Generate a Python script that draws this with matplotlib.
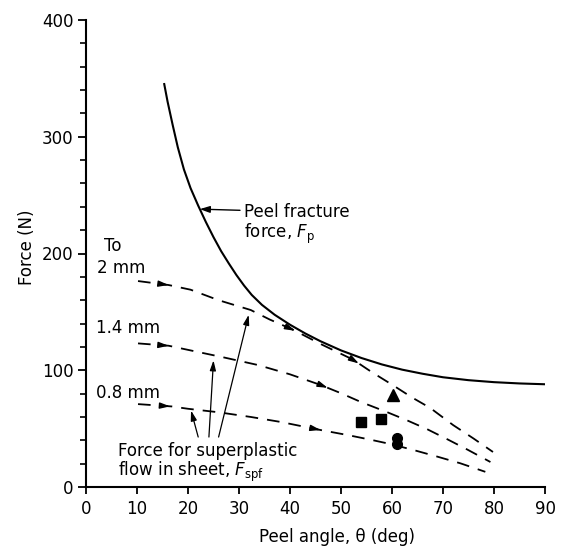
import numpy as np
import matplotlib
matplotlib.use("Agg")
import matplotlib.pyplot as plt

plt.rcParams['font.family'] = ['DejaVu Sans']
plt.rcParams['mathtext.fontset'] = 'dejavusans'

# Peel fracture force curve F_p
fp_theta = [15.3, 16.0, 17.0, 18.0, 19.2, 20.5, 22.0, 23.5, 25.0, 26.5, 28.0, 29.5, 31.0, 32.5,
            34.5, 37.0, 40.0, 43.0, 46.0, 50.0, 54.0, 58.0, 62.0, 66.0, 70.0, 75.0, 80.0, 85.0, 90.0]
fp_force = [346, 330, 310, 291, 272, 256, 241, 227, 214, 202, 191.5, 181.5, 172.5, 164.5,
            156, 147.5, 139, 131.5, 124.8, 117, 110.5, 105, 100.5, 97, 94, 91.5, 89.8, 88.7, 88]

# Force for superplastic flow, F_spf (dashed) for three thicknesses
t2_theta = [10.2, 16.2, 20.5, 26.0, 32.3, 36.0, 40.7, 46.0, 52.4, 56.0, 60.1, 64.0, 67.5, 72.0, 76.0, 79.8]
t2_force = [176.4, 173, 169, 160, 151.6, 143.5, 134.5, 122.5, 109, 98.5, 87.4, 76.5, 67.7, 53, 41.5, 30]

t14_theta = [10.2, 16.2, 20.5, 27.0, 33.7, 40.0, 46.0, 49.9, 53.8, 59.1, 63.0, 66.9, 70.8, 74.8, 79.3]
t14_force = [123, 121, 117, 111, 104.5, 96.5, 87.4, 80.5, 73, 64, 57, 49.5, 41, 32, 21.4]

t08_theta = [10.2, 16.8, 20.0, 26.0, 32.3, 38.2, 46.0, 51.3, 55.8, 59.7, 64.2, 68.9, 73.4, 78.3]
t08_force = [71, 69, 67, 64, 60, 55.7, 48.8, 44.5, 40.5, 36.8, 31.7, 26, 20.3, 13]

# Experimental points
tri_theta, tri_force = [60.1], [79]
sq_theta, sq_force = [54.0, 57.9], [55.7, 58.2]
circ_theta, circ_force = [60.9, 60.9], [42, 37]

# Positions of direction arrows along dashed lines (theta)
t2_arrows = [16.2, 41.0, 53.5]
t14_arrows = [16.2, 47.4]
t08_arrows = [16.5, 46.0]

x_ticks = list(range(0, 91, 10))
y_ticks = [0, 100, 200, 300, 400]

fig = plt.figure(figsize=(5.62, 5.49), dpi=100)
ax = fig.add_axes([86/562, 1-487/549, (545-86)/562, (487-20)/549])

ax.plot(fp_theta, fp_force, color='black', lw=1.5, solid_capstyle='butt')
for th, fo in [(t2_theta, t2_force), (t14_theta, t14_force), (t08_theta, t08_force)]:
    ax.plot(th, fo, color='black', lw=1.3, dashes=(7, 5))

def arrows_on(th, fo, where):
    for w in where:
        y2 = np.interp(w, th, fo)
        y1 = np.interp(w - 1.5, th, fo)
        ax.annotate('', xy=(w, y2), xytext=(w - 1.5, y1),
                    arrowprops=dict(arrowstyle='-|>,head_length=0.6,head_width=0.18',
                                    color='black', lw=1.0, shrinkA=0, shrinkB=0))

arrows_on(t2_theta, t2_force, t2_arrows)
arrows_on(t14_theta, t14_force, t14_arrows)
arrows_on(t08_theta, t08_force, t08_arrows)

ax.plot(tri_theta, tri_force, '^', color='black', ms=8)
ax.plot(sq_theta, sq_force, 's', color='black', ms=7)
ax.plot(circ_theta, circ_force, 'o', color='black', ms=7)

# Labels
ax.text(5.3, 206, 'To', fontsize=12, ha='center', va='center')
ax.text(2.1, 188, '2 mm', fontsize=12, ha='left', va='center')
ax.text(1.9, 136, '1.4 mm', fontsize=12, ha='left', va='center')
ax.text(1.9, 80.5, '0.8 mm', fontsize=12, ha='left', va='center')

ax.text(30.9, 235.5, 'Peel fracture', fontsize=12, ha='left', va='center')
ax.text(30.9, 217, r'force, $F_{\mathrm{p}}$', fontsize=12, ha='left', va='center')
ax.annotate('', xy=(22.3, 238), xytext=(30.2, 237),
            arrowprops=dict(arrowstyle='-|>,head_length=0.6,head_width=0.2',
                            color='black', lw=1.0, shrinkA=0, shrinkB=0))

ax.text(6.3, 31, 'Force for superplastic', fontsize=12, ha='left', va='center')
ax.text(6.3, 13, r'flow in sheet, $F_{\mathrm{spf}}$', fontsize=12, ha='left', va='center')

for (x0, y0, x1, y1) in [(22.0, 42.8, 20.6, 65.5), (24.1, 42.8, 25.0, 108.5), (26.0, 42.8, 31.9, 147.5)]:
    ax.annotate('', xy=(x1, y1), xytext=(x0, y0),
                arrowprops=dict(arrowstyle='-|>,head_length=0.6,head_width=0.18',
                                color='black', lw=0.9, shrinkA=0, shrinkB=0))

ax.set_xlim(0, 90)
ax.set_ylim(0, 400)
ax.set_xticks(x_ticks)
ax.set_yticks(y_ticks)
ax.set_yticks(np.arange(0, 401, 20), minor=True)
ax.spines['top'].set_visible(False)
ax.spines['right'].set_visible(False)
ax.spines['left'].set_linewidth(1.5)
ax.spines['bottom'].set_linewidth(1.5)
ax.tick_params(axis='y', which='major', direction='out', length=6, width=1.3, labelsize=12, pad=3)
ax.tick_params(axis='y', which='minor', direction='out', length=4, width=1.2)
ax.tick_params(axis='x', which='major', direction='out', length=5, width=1.3, labelsize=12, pad=4)

fig.text(27/562, 1-247/549, 'Force (N)', rotation=90, fontsize=12, ha='center', va='center')
fig.text(337/562, 1-537/549, 'Peel angle, θ (deg)', fontsize=12, ha='center', va='center')

fig.savefig('out.png', dpi=100)
